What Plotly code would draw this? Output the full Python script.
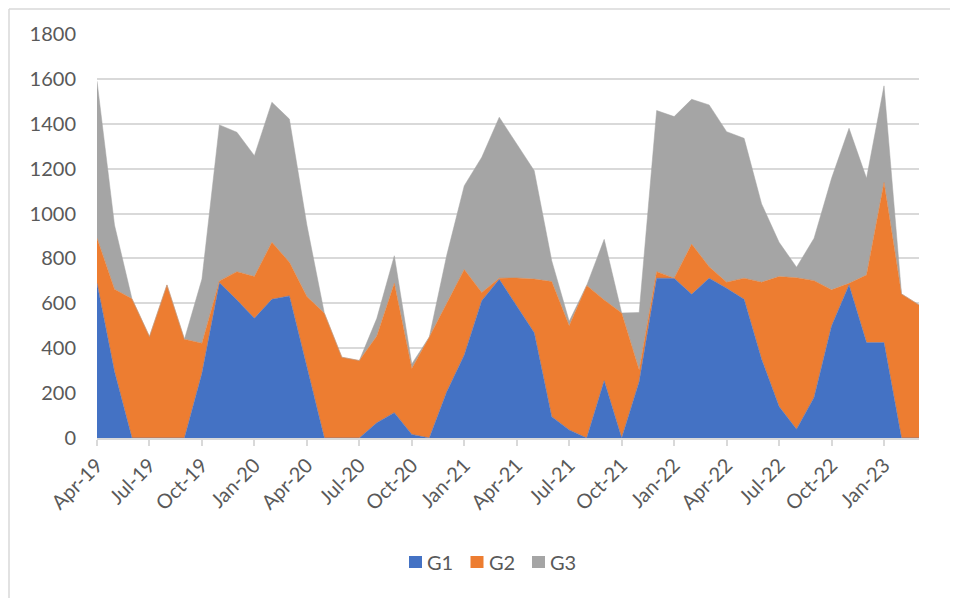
import plotly.graph_objects as go

MONTHS = ["Apr-19", "May-19", "Jun-19", "Jul-19", "Aug-19", "Sep-19", "Oct-19", "Nov-19", "Dec-19",
          "Jan-20", "Feb-20", "Mar-20", "Apr-20", "May-20", "Jun-20", "Jul-20", "Aug-20", "Sep-20",
          "Oct-20", "Nov-20", "Dec-20", "Jan-21", "Feb-21", "Mar-21", "Apr-21", "May-21", "Jun-21",
          "Jul-21", "Aug-21", "Sep-21", "Oct-21", "Nov-21", "Dec-21", "Jan-22", "Feb-22", "Mar-22",
          "Apr-22", "May-22", "Jun-22", "Jul-22", "Aug-22", "Sep-22", "Oct-22", "Nov-22", "Dec-22",
          "Jan-23", "Feb-23", "Mar-23"]

TICK_LABELS = ["Apr-19", "Jul-19", "Oct-19", "Jan-20", "Apr-20", "Jul-20", "Oct-20", "Jan-21",
               "Apr-21", "Jul-21", "Oct-21", "Jan-22", "Apr-22", "Jul-22", "Oct-22", "Jan-23"]

G1 = [690, 296, 0, 0, 0, 0, 288, 692, 615, 533, 618, 633, 318, 0, 0, 0, 68, 113, 16, 0, 206, 370,
      612, 707, 588, 469, 95, 36, 0, 255, 0, 251, 712, 712, 640, 712, 667, 618, 351, 140, 39, 181,
      499, 682, 425, 425, 0, 0]
G2 = [200, 367, 620, 452, 682, 440, 134, 8, 126, 186, 254, 150, 312, 556, 360, 345, 386, 576, 294,
      450, 394, 381, 36, 5, 125, 239, 602, 464, 680, 360, 557, 52, 29, 0, 224, 51, 27, 94, 343, 579,
      675, 520, 161, 7, 301, 713, 642, 593]
G3 = [700, 286, 0, 0, 0, 0, 286, 695, 621, 539, 624, 638, 319, 0, 0, 0, 79, 123, 20, 0, 215, 373,
      603, 717, 597, 483, 93, 20, 0, 270, 0, 256, 718, 720, 645, 721, 671, 623, 349, 153, 47, 189,
      497, 691, 431, 431, 0, 0]

SERIES = [("G1", G1, "#4472C4"), ("G2", G2, "#ED7D31"), ("G3", G3, "#A5A5A5")]

FONT = "Lato, Calibri, Carlito, sans-serif"
TXT = "#595959"

fig = go.Figure()
for name, vals, col in SERIES:
    fig.add_trace(go.Scatter(
        x=MONTHS, y=vals, name=name, mode="lines",
        stackgroup="one", line=dict(color=col, width=0.5),
        fillcolor=col, hoverinfo="x+y+name", showlegend=False,
    ))

# page has an 8px body margin, so figure coordinates are page coordinates minus 8
W, H = 950, 590
L, R, T, B = 89, 39, 26, 160
pw, ph = W - L - R, H - T - B
PB = H - B  # figure y of plot bottom


def px(xp):  # page x -> paper x
    return (xp - 8 - L) / pw


def py(yp):  # page y -> paper y
    return (PB - (yp - 8)) / ph


shapes = [
    dict(type="line", xref="paper", yref="paper",
         x0=(1 - L) / pw, x1=(W + 5 - L) / pw, y0=(PB - 1) / ph, y1=(PB - 1) / ph,
         line=dict(color="#d9d9d9", width=1.5)),
    dict(type="line", xref="paper", yref="paper",
         x0=(1 - L) / pw, x1=(1 - L) / pw, y0=(PB - 1) / ph, y1=(PB - H - 5) / ph,
         line=dict(color="#d9d9d9", width=1.5)),
]
annotations = []
# legend drawn manually: square swatch + label, matching the reference spacing
LEG_X0, LEG_STEP, LEG_Y = 409, 61.5, 562
for k, (name, vals, col) in enumerate(SERIES):
    x0 = LEG_X0 + k * LEG_STEP
    shapes.append(dict(type="rect", xref="paper", yref="paper",
                       x0=px(x0), x1=px(x0 + 13), y0=py(LEG_Y + 6), y1=py(LEG_Y - 6),
                       fillcolor=col, line=dict(width=0)))
    annotations.append(dict(xref="paper", yref="paper", x=px(x0 + 16), y=py(LEG_Y),
                            xanchor="left", yanchor="middle", showarrow=False, text=name,
                            font=dict(family=FONT, size=20, color=TXT)))

fig.update_layout(
    width=W, height=H,
    margin=dict(l=L, r=R, t=T, b=B),
    paper_bgcolor="white", plot_bgcolor="white",
    font=dict(family=FONT, size=20, color=TXT),
    showlegend=False,
    xaxis=dict(
        type="category", categoryorder="array", categoryarray=MONTHS,
        range=[0, len(MONTHS) - 1],
        tickmode="array", tickvals=TICK_LABELS, ticktext=TICK_LABELS,
        tickangle=-45, ticks="outside", ticklen=6, tickcolor="#d9d9d9", tickwidth=1.5,
        showline=True, linecolor="#d9d9d9", linewidth=1.5,
        showgrid=False, zeroline=False,
        tickfont=dict(family=FONT, size=20, color=TXT),
    ),
    yaxis=dict(
        range=[0, 1800], dtick=200, tick0=0,
        showgrid=True, gridcolor="#d9d9d9", gridwidth=1.5,
        zeroline=False, showline=False, ticks="",
        ticklabelstandoff=20,
        tickfont=dict(family=FONT, size=20, color=TXT),
    ),
    shapes=shapes,
    annotations=annotations,
)

fig.write_html("out.html")
